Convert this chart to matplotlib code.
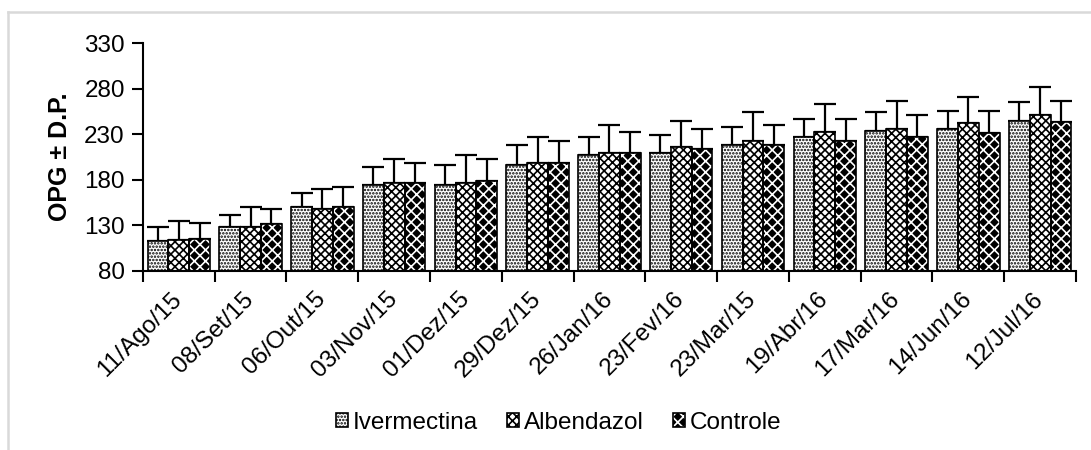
import numpy as np
import matplotlib
matplotlib.use("Agg")
import matplotlib.pyplot as plt
from matplotlib.lines import Line2D
from matplotlib.patches import Patch
from matplotlib.transforms import ScaledTranslation

# Sampling dates
dates = ["11/Ago/15", "08/Set/15", "06/Out/15", "03/Nov/15", "01/Dez/15",
         "29/Dez/15", "26/Jan/16", "23/Fev/16", "23/Mar/15", "19/Abr/16",
         "17/Mar/16", "14/Jun/16", "12/Jul/16"]

# Mean OPG per group
ivermectina = [113, 128, 150, 174, 174, 196, 207, 209, 218, 227, 234, 236, 244]
albendazol = [114, 128, 148, 176, 176, 198, 209, 216, 222, 232, 236, 242, 251]
controle = [115, 131, 150, 176, 179, 198, 209, 214, 218, 223, 227, 231, 243]

# Standard deviation (upper bar only)
ivermectina_dp = [15, 13, 15, 20, 22, 22, 20, 20, 20, 20, 20, 19, 21]
albendazol_dp = [21, 22, 22, 27, 31, 29, 31, 28, 32, 31, 30, 29, 31]
controle_dp = [18, 17, 22, 22, 24, 25, 23, 22, 22, 24, 24, 24, 23]

plt.rcParams['font.family'] = ['Liberation Sans', 'DejaVu Sans']
plt.rcParams['hatch.linewidth'] = 1.2

fig = plt.figure(figsize=(10.91, 4.5), dpi=100)
ax = fig.add_axes([0.131, 0.398, 0.8553, 0.5064])

x = np.arange(len(dates))
w = 0.29

series = [
    (ivermectina, ivermectina_dp, "Ivermectina", "white", "black", "....."),
    (albendazol, albendazol_dp, "Albendazol", "white", "black", "xxxx"),
    (controle, controle_dp, "Controle", "black", "white", "xxx"),
]

handles = []
for i, (vals, dp, name, fc, hc, hatch) in enumerate(series):
    pos = x + (i - 1) * w
    # hatched fill, then a plain black outline on top
    ax.bar(pos, np.array(vals) - 80, w, bottom=80, color=fc, edgecolor=hc,
           hatch=hatch, linewidth=0, zorder=2)
    ax.bar(pos, np.array(vals) - 80, w, bottom=80, fill=False,
           edgecolor="black", linewidth=1.2, zorder=3)
    ax.errorbar(pos, vals, yerr=[np.zeros(len(dp)), dp], fmt="none",
                ecolor="black", elinewidth=1.6, capsize=8, capthick=1.6,
                zorder=1)
    fill = Patch(facecolor=fc, edgecolor=hc, hatch=hatch, linewidth=0)
    edge = Patch(fill=False, edgecolor="black", linewidth=1.2)
    handles.append(((fill, edge), name))

ax.set_xlim(-0.5, len(dates) - 0.5)
ax.set_ylim(80, 330)
ax.set_yticks(np.arange(80, 331, 50))
ax.tick_params(axis="y", labelsize=17.5, length=8, width=1.5, direction="out",
               colors="black", pad=5)

ax.set_xticks(x)
ax.set_xticklabels(dates, rotation=45, ha="right", va="baseline",
                   rotation_mode="anchor", fontsize=17.5)
ax.tick_params(axis="x", which="major", length=0, pad=21)
ax.set_xticks(np.arange(-0.5, len(dates)), minor=True)
ax.tick_params(axis="x", which="minor", length=8, width=1.5,
               direction="out")

# nudge the slanted date labels a little to the right
shift = ScaledTranslation(4 / 100, 0, fig.dpi_scale_trans)
for lbl in ax.get_xticklabels():
    lbl.set_transform(lbl.get_transform() + shift)

for side in ("top", "right"):
    ax.spines[side].set_visible(False)
for side in ("left", "bottom"):
    ax.spines[side].set_linewidth(1.5)

ax.set_ylabel("OPG ± D.P.", fontsize=18, fontweight="bold")
ax.yaxis.set_label_coords(-0.076, 0.5)

fig.legend([h for h, _ in handles], [n for _, n in handles], loc="center",
           bbox_to_anchor=(0.512, 0.06), ncol=3, frameon=False, fontsize=17.5,
           handlelength=0.5, handleheight=0.5, handletextpad=0.2,
           columnspacing=1.2)

# light chart-area border on top and left
fig.add_artist(Line2D([8 / 1091, 1], [1 - 12 / 450, 1 - 12 / 450],
                      transform=fig.transFigure, color="#d9d9d9", lw=1.8))
fig.add_artist(Line2D([8 / 1091, 8 / 1091], [0, 1 - 12 / 450],
                      transform=fig.transFigure, color="#d9d9d9", lw=1.8))

fig.savefig("out.png", dpi=100, facecolor="white")
